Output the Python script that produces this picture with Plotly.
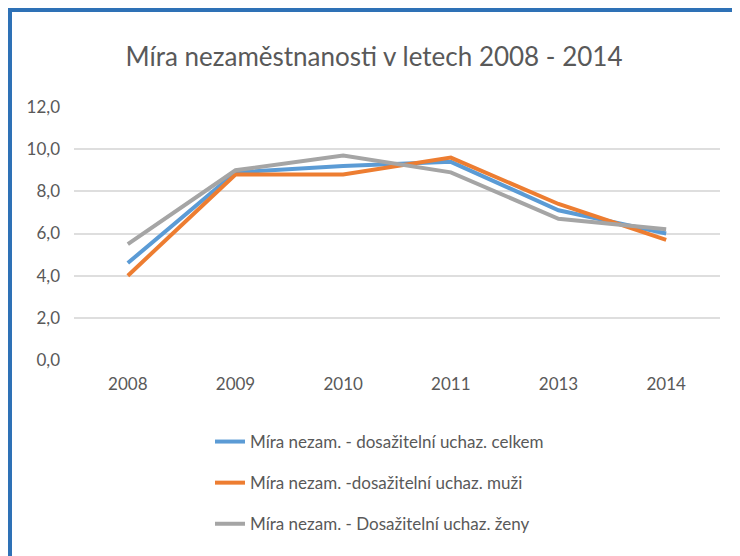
import plotly.graph_objects as go

# data
YEARS = ["2008", "2009", "2010", "2011", "2013", "2014"]
CELKEM = [4.6, 8.9, 9.2, 9.4, 7.1, 6.0]
MUZI = [4.0, 8.8, 8.8, 9.6, 7.4, 5.7]
ZENY = [5.5, 9.0, 9.7, 8.9, 6.7, 6.2]

SERIES = [
    ("Míra nezam. - dosažitelní uchaz. celkem", CELKEM, "#5b9bd5"),
    ("Míra nezam. -dosažitelní uchaz. muži", MUZI, "#ed7d31"),
    ("Míra nezam. - Dosažitelní uchaz. ženy", ZENY, "#a5a5a5"),
]

FONT = "Lato"
TEXT = "#595959"
BORDER = "#2e71b6"

fig = go.Figure()
for i, (name, vals, color) in enumerate(SERIES):
    fig.add_trace(go.Scatter(
        x=YEARS, y=vals, name=name, mode="lines",
        line=dict(color=color, width=4),
        legendgroup=f"g{i}",
    ))

# page body adds an 8px margin, so the figure sits at (8, 8) in the window
OFF = 8
W, H = 740 - OFF, 556 - OFF
L, R, T, B = 74 - OFF, 20, 107 - OFF, 196
pw, ph = W - L - R, H - T - B


def px_x(p):
    return (p - OFF - L) / pw


def px_y(p):
    return (H - B - (p - OFF)) / ph


# blue frame on top and left edges
shapes = [
    dict(type="rect", xref="paper", yref="paper",
         x0=px_x(8), x1=px_x(12), y0=px_y(556), y1=px_y(8),
         fillcolor=BORDER, line=dict(width=0), layer="above"),
    dict(type="rect", xref="paper", yref="paper",
         x0=px_x(8), x1=px_x(740), y0=px_y(12), y1=px_y(8),
         fillcolor=BORDER, line=dict(width=0), layer="above"),
]

fig.update_layout(
    width=W, height=H,
    margin=dict(l=L, r=R, t=T, b=B),
    paper_bgcolor="white", plot_bgcolor="white",
    separators=",.",
    font=dict(family=FONT, color=TEXT),
    title=dict(
        text="Míra nezaměstnanosti v letech 2008 - 2014",
        font=dict(family=FONT, size=26, color=TEXT),
        x=0.5, xanchor="center", y=1 - (57 - OFF) / H, yanchor="middle",
    ),
    xaxis=dict(
        type="category", range=[-0.5, 5.5],
        showgrid=False, zeroline=False, showline=False,
        ticks="", tickfont=dict(size=17, color=TEXT),
        ticklabelstandoff=12,
    ),
    yaxis=dict(
        range=[0, 12], dtick=2, tickformat=".1f",
        showgrid=True, gridcolor="#dedede", gridwidth=1.5,
        zeroline=False, showline=False, ticks="",
        tickfont=dict(size=17, color=TEXT),
        ticklabelstandoff=13,
    ),
    legend=dict(
        orientation="v",
        x=px_x(210), xanchor="left",
        y=px_y(424), yanchor="top",
        font=dict(family=FONT, size=17, color=TEXT),
        tracegroupgap=16,
        bgcolor="rgba(0,0,0,0)",
    ),
    shapes=shapes,
)

fig.write_html("out.html")
